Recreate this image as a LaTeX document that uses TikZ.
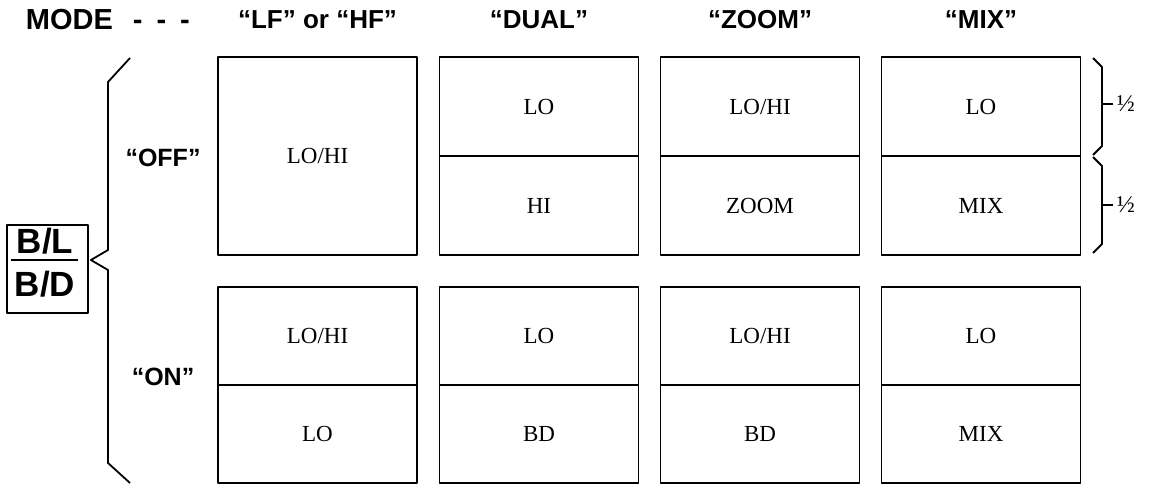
\documentclass[tikz,border=0pt]{standalone}
\usepackage{fontspec}
\setmainfont{Liberation Serif}
\newfontfamily\hsans{Liberation Sans}
\usetikzlibrary{calc}
\begin{document}
\begin{tikzpicture}[x=1pt,y=-1pt,
  line width=1.8pt, line join=round,
  cell/.style={draw, minimum width=199pt, inner sep=0pt, font=\fontsize{23}{23}\selectfont},
  fullcell/.style={cell, minimum height=198pt},
  topcell/.style={cell, minimum height=99pt},
  botcell/.style={cell, minimum height=98pt},
  hdr/.style={font=\hsans\bfseries\fontsize{26}{26}\selectfont, inner sep=0pt},
  side/.style={font=\hsans\bfseries\fontsize{25}{25}\selectfont, inner sep=0pt},
  bltext/.style={font=\hsans\bfseries\fontsize{35}{35}\selectfont, inner sep=0pt},
  half/.style={font=\fontsize{24}{24}\selectfont, inner sep=0pt, anchor=west, xshift=3pt}
]
\useasboundingbox (0,0) rectangle (1150,484);

% headers
\node[hdr, anchor=west, font=\hsans\bfseries\fontsize{29}{29}\selectfont] (mode) at (25,20) {MODE\hspace{20pt}-\hspace{14pt}-\hspace{14pt}-};
\node[hdr] (h1) at (317.5,20) {“LF” or “HF”};
\node[hdr] (h2) at (539,20) {“DUAL”};
\node[hdr] (h3) at (760,20) {“ZOOM”};
\node[hdr] (h4) at (981,20) {“MIX”};

% top row (OFF)
\node[fullcell] (a1) at (317.5,156) {LO/HI};
\node[topcell] (a2t) at (539,106.5) {LO};
\node[topcell] (a2b) at (539,205.5) {HI};
\node[topcell] (a3t) at (760,106.5) {LO/HI};
\node[topcell] (a3b) at (760,205.5) {ZOOM};
\node[topcell] (a4t) at (981,106.5) {LO};
\node[topcell] (a4b) at (981,205.5) {MIX};

% bottom row (ON)
\node[botcell] (b1t) at (317.5,336) {LO/HI};
\node[botcell] (b1b) at (317.5,434) {LO};
\node[botcell] (b2t) at (539,336) {LO};
\node[botcell] (b2b) at (539,434) {BD};
\node[botcell] (b3t) at (760,336) {LO/HI};
\node[botcell] (b3b) at (760,434) {BD};
\node[botcell] (b4t) at (981,336) {LO};
\node[botcell] (b4b) at (981,434) {MIX};

% side labels
\node[side] (off) at (163,158) {“OFF”};
\node[side] (on) at (163,377) {“ON”};

% B/L over B/D box
\node[draw, minimum width=81pt, minimum height=88pt, inner sep=0pt] (bl) at (47.5,269) {};
\node[bltext] (blt) at (45,241) {B/L};
\node[bltext] (bld) at (45,284) {B/D};
\draw ($(bl.west)+(5,-9)$) -- ($(bl.east)+(-11,-9)$);

% left brace
\coordinate (tip) at ($(bl.east)+(2,-9)$);
\draw (130,58) -- (108,82) -- (108,250) -- (tip) -- (108,270) -- (108,463) -- (130,483);

% right brackets with 1/2
\draw (1093,58) -- (1102,67) -- (1102,146) -- (1093,155);
\draw (1093,157) -- (1102,166) -- (1102,244) -- (1093,253);
\coordinate (t1) at (1102,104);
\coordinate (t2) at (1102,205);
\draw (t1) -- ++(11,0) node[half] (hf1) {½};
\draw (t2) -- ++(11,0) node[half] (hf2) {½};
\end{tikzpicture}
\end{document}
